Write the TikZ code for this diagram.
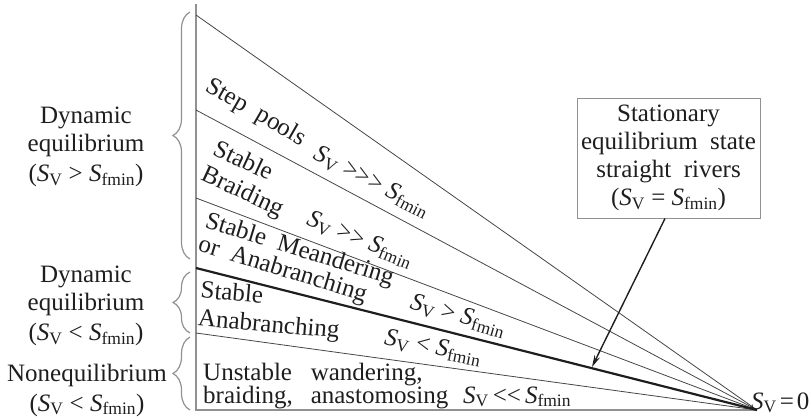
\documentclass[tikz,border=0pt]{standalone}
\usepackage{fontspec}
\setmainfont{Liberation Serif}[Ligatures=TeXOff]
\usetikzlibrary{arrows.meta,decorations.pathreplacing}

\definecolor{axisgray}{RGB}{145,145,145}
\definecolor{fangray}{RGB}{70,70,70}
\definecolor{inkgray}{RGB}{30,30,30}
\newcommand{\Sv}{\textit{S}\textsubscript{V}}
\newcommand{\Sfm}{\textit{S}\textsubscript{fmin}}

\begin{document}
\begin{tikzpicture}[x=1pt,y=-1pt,>={Stealth[length=12pt,width=6pt]},
	lbl/.style={font=\fontsize{25}{28}\selectfont,text=inkgray,inner sep=0pt},
	fanline/.style={draw=fangray,line width=0.8pt},
	bracegray/.style={draw=axisgray,line width=1.2pt,decorate,
		decoration={brace,amplitude=17pt}}]
			\useasboundingbox (0,0) rectangle (811,418);
			%%%	Assi
			\coordinate (top) at (196,4);
			\coordinate (orig) at (196,410);
			\coordinate (apex) at (757,410);
			\draw[axisgray,line width=1.3pt] (top) -- (orig) -- (apex);
			%%%	Ventaglio
			\coordinate (l1) at (196,15);
			\coordinate (l2) at (196,110);
			\coordinate (l3) at (196,198);
			\coordinate (l4) at (196,268);
			\coordinate (l5) at (196,333);
			\foreach \p in {l1,l2,l3,l5}
			\draw[fanline] (\p) -- (apex);
			\draw[inkgray,line width=2.2pt] (l4) -- (apex);
			%%%	Graffe
			\draw[bracegray] (190,259) -- (190,12);
			\draw[bracegray] (190,333) -- (190,272);
			\draw[bracegray] (190,410) -- (190,337);
			%%%	Etichette a sinistra
			\node[lbl,align=center] (dyn1) at (86,147) {Dynamic\\equilibrium\\[2pt](\Sv\ > \Sfm)};
			\node[lbl,align=center] (dyn2) at (86,306) {Dynamic\\equilibrium\\[2pt](\Sv\ < \Sfm)};
			\node[lbl,align=center] (noneq) at (87,390) {Nonequilibrium\\[2pt](\Sv\ < \Sfm)};
			%%%	Etichette nel ventaglio
			\node[lbl,rotate=-30] (step) at (256,113) {Step\ \ pools};
			\node[lbl,rotate=-27] (s1) at (372,182) {\Sv\ >>> \Sfm};
			\node[lbl,rotate=-25,align=left] (braid) at (248,180) {Stable\\Braiding};
			\node[lbl,rotate=-22] (s2) at (360,240) {\Sv\ >> \Sfm};
			\node[lbl,rotate=-17,align=left] (meand) at (296,262) {Stable\ \ Meandering\\[-4pt]or\ \ Anabranching};
			\node[lbl,rotate=-16] (s3) at (458,316) {\Sv\ > \Sfm};
			\node[lbl,rotate=-5,align=left] (anab) at (270,312) {Stable\\Anabranching};
			\node[lbl,rotate=-11] (s4) at (433,348) {\Sv\ < \Sfm};
			\node[lbl,anchor=base west] (unst) at (203,380)
			{\begin{tabular}[t]{@{}l@{\hspace{18pt}}l@{}}Unstable & wandering,\\[-5pt] braiding, & anastomosing\end{tabular}};
			\node[lbl,anchor=base west] (s5) at (463,403) {\Sv\kern4pt<<\kern4pt\Sfm};
			\node[lbl,anchor=base west] (zero) at (751,409) {\Sv\kern3pt=\kern3pt0};
			%%%	Riquadro
			\node[lbl,draw=axisgray,line width=1pt,align=center,minimum width=183pt,
			minimum height=120pt] (stat) at (668.5,158)
			{Stationary\\equilibrium\ \ state\\straight\ \ rivers\\[0pt](\Sv\ = \Sfm)};
			\coordinate (hit) at (592,367);
			\draw[->,inkgray,line width=1.4pt] (stat.south -| 665,0) -- (hit);
\end{tikzpicture}
\end{document}
